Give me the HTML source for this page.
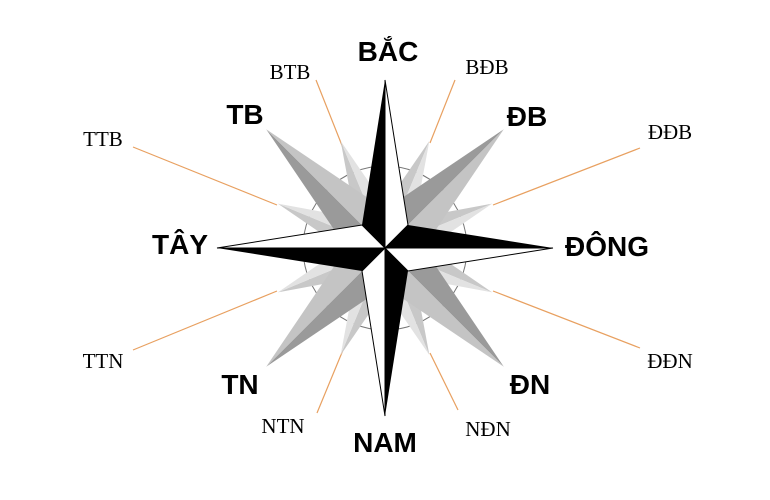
<!DOCTYPE html>
<html><head><meta charset="utf-8"><style>
body{margin:0;background:#fff;}
svg{display:block}
.s{font-family:"Liberation Sans",sans-serif;font-weight:bold;font-size:28px;fill:#000;text-anchor:middle}
.r{font-family:"Liberation Serif",serif;font-size:21px;fill:#000;text-anchor:middle}
</style></head><body>
<svg width="770" height="500" viewBox="0 0 770 500">
<g stroke="#e8a060" stroke-width="1.2">
<line x1="316" y1="80" x2="343" y2="148"/>
<line x1="455" y1="80" x2="430" y2="143"/>
<line x1="640" y1="148" x2="493" y2="205"/>
<line x1="640" y1="348" x2="493" y2="291"/>
<line x1="458" y1="410" x2="430" y2="353"/>
<line x1="317" y1="413" x2="343" y2="350"/>
<line x1="133" y1="350" x2="277" y2="291"/>
<line x1="133" y1="147" x2="277" y2="205"/>
</g>
<g transform="translate(385,248)">
<defs>
<g id="sec"><polygon points="0,0 0,-116 -14,-50" fill="#c8c8c8"/><polygon points="0,0 0,-116 14,-50" fill="#e2e2e2"/></g>
<g id="dia"><polygon points="0,0 0,-168 -24,-44" fill="#9a9a9a"/><polygon points="0,0 0,-168 24,-44" fill="#c4c4c4"/></g>
<g id="car"><polygon points="0,0 0,-168 -23,-23" fill="#000"/><polygon points="0,0 0,-168 23,-23" fill="#fff" stroke="#000" stroke-width="1"/></g>
</defs>
<circle r="82" fill="none" stroke="#777" stroke-width="1"/>
<use href="#sec" transform="rotate(22.5)"/><use href="#sec" transform="rotate(67.5)"/>
<use href="#sec" transform="rotate(112.5)"/><use href="#sec" transform="rotate(157.5)"/>
<use href="#sec" transform="rotate(202.5)"/><use href="#sec" transform="rotate(247.5)"/>
<use href="#sec" transform="rotate(292.5)"/><use href="#sec" transform="rotate(337.5)"/>
<use href="#dia" transform="rotate(45)"/><use href="#dia" transform="rotate(135)"/>
<use href="#dia" transform="rotate(225)"/><use href="#dia" transform="rotate(315)"/>
<use href="#car"/><use href="#car" transform="rotate(90)"/>
<use href="#car" transform="rotate(180)"/><use href="#car" transform="rotate(270)"/>
</g>
<text class="s" x="388" y="61">BẮC</text>
<text class="r" x="290" y="79">BTB</text>
<text class="r" x="487" y="74">BĐB</text>
<text class="s" x="245" y="124">TB</text>
<text class="s" x="527" y="126">ĐB</text>
<text class="r" x="103" y="146">TTB</text>
<text class="r" x="670" y="139">ĐĐB</text>
<text class="s" x="180" y="254">TÂY</text>
<text class="s" x="607" y="256">ĐÔNG</text>
<text class="r" x="103" y="368">TTN</text>
<text class="r" x="670" y="368">ĐĐN</text>
<text class="s" x="240" y="394">TN</text>
<text class="s" x="530" y="394">ĐN</text>
<text class="r" x="283" y="433">NTN</text>
<text class="r" x="488" y="436">NĐN</text>
<text class="s" x="385" y="452">NAM</text>
</svg>
</body></html>
